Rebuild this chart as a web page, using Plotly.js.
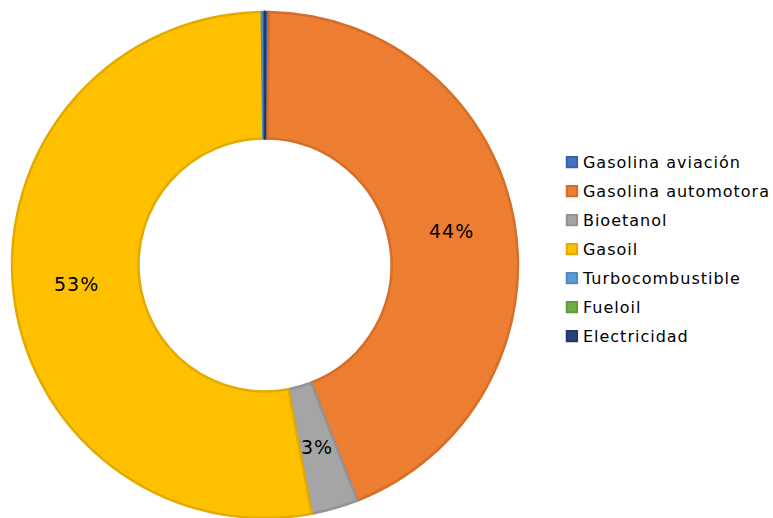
<!DOCTYPE html>
<html>
<head>
<meta charset="utf-8">
<script src="https://cdn.plot.ly/plotly-3.0.1.min.js"></script>
<style>
html,body{margin:0;padding:0;background:#fff;}
#chart{width:773px;height:518px;}
.legendtext{font-size:16px !important;letter-spacing:1px;transform:translate(-9px,-2px);}
.legendpie{transform:translate(20px,0px) scale(0.85) !important;}
.annotation-text{letter-spacing:1px;}
</style>
</head>
<body>
<div id="chart"></div>
<script>
const categories = ["Gasolina aviación", "Gasolina automotora", "Bioetanol", "Gasoil", "Turbocombustible", "Fueloil", "Electricidad"];
const shares = [0.25, 43.8, 3.0, 52.75, 0.16, 0.02, 0.02];
const sliceLabels = ["", "44%", "3%", "53%", "", "", ""];
const colors = ["#4472C4", "#ED7D31", "#A5A5A5", "#FFC000", "#5B9BD5", "#70AD47", "#264478"];
const edgeColors = ["#3A63AE", "#D56E28", "#939393", "#E3AB00", "#4F8AC0", "#62993D", "#1F3A68"];

const W = 773, H = 518;
const dom = {x: [12/W, 518/W], y: [0, 506/H]};
const hole = 0.5;

const trace = {
  type: "pie",
  labels: categories,
  values: shares,
  textinfo: "none",
  hole: hole,
  sort: false,
  direction: "clockwise",
  rotation: 0,
  marker: {colors: colors, line: {color: edgeColors, width: 2.5}},
  domain: dom,
  hoverinfo: "label+percent"
};

// data labels placed at the mid-angle of each slice, halfway through the ring
const total = shares.reduce((a, b) => a + b, 0);
const cx = (dom.x[0] + dom.x[1]) / 2 * W;
const cyTop = (1 - (dom.y[0] + dom.y[1]) / 2) * H;
const R = Math.min((dom.x[1] - dom.x[0]) * W, (dom.y[1] - dom.y[0]) * H) / 2;
const rMid = R * (1 + hole) / 2;
const annotations = [];
let cum = 0;
shares.forEach((v, i) => {
  const mid = (cum + v / 2) / total * 2 * Math.PI;
  cum += v;
  if (!sliceLabels[i]) return;
  const px = cx + rMid * Math.sin(mid);
  const py = cyTop - rMid * Math.cos(mid);
  annotations.push({
    xref: "paper", yref: "paper",
    x: px / W, y: 1 - py / H,
    xanchor: "center", yanchor: "middle",
    text: sliceLabels[i], showarrow: false,
    font: {family: "DejaVu Sans", size: 19, color: "#000"}
  });
});

const layout = {
  width: W, height: H,
  margin: {l: 0, r: 0, t: 0, b: 0, autoexpand: false},
  paper_bgcolor: "#fff",
  showlegend: true,
  annotations: annotations,
  legend: {
    x: 0.714, y: 0.519, xanchor: "left", yanchor: "middle",
    font: {family: "DejaVu Sans", size: 20, color: "#000"},
    traceorder: "normal"
  },
  font: {family: "DejaVu Sans"}
};

Plotly.newPlot("chart", [trace], layout, {displayModeBar: false, staticPlot: true});
</script>
</body>
</html>
